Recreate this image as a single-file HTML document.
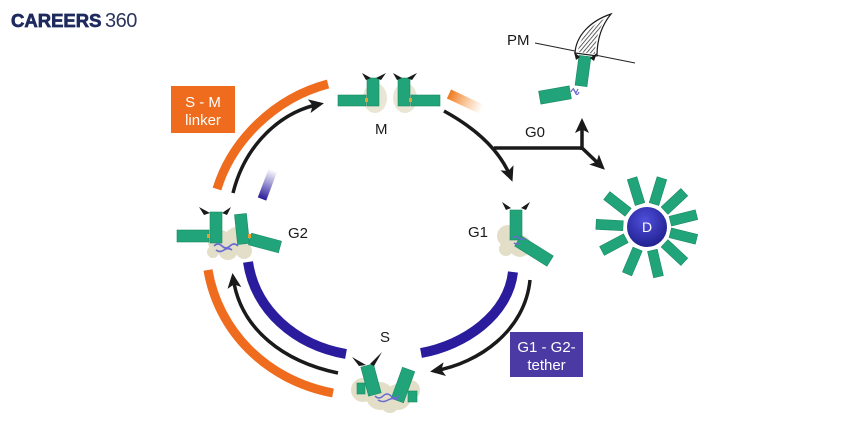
<!DOCTYPE html>
<html>
<head>
<meta charset="utf-8">
<style>
html,body{margin:0;padding:0;background:#fff;}
body{width:860px;height:430px;overflow:hidden;}
svg{display:block;}
.r{fill:#22a47a;stroke:#168a60;stroke-width:0.6;}
.cl{fill:#e2dec8;}
.lbl{font-family:"Liberation Sans",sans-serif;font-size:15px;fill:#1a1a1a;}
.bx{font-family:"Liberation Sans",sans-serif;font-size:15px;fill:#fff;text-anchor:middle;}
.ah{fill:#1a1a1a;}
</style>
</head>
<body>
<svg width="860" height="430" viewBox="0 0 860 430" xmlns="http://www.w3.org/2000/svg">
<defs>
  <marker id="ah" markerWidth="18" markerHeight="16" refX="11" refY="7" orient="auto" markerUnits="userSpaceOnUse">
    <path d="M0,0 L15,7 L0,14 L3.5,7 Z" fill="#1a1a1a"/>
  </marker>
  <linearGradient id="og" gradientUnits="userSpaceOnUse" x1="449" y1="95" x2="482" y2="110">
    <stop offset="0" stop-color="#f07a1e"/>
    <stop offset="1" stop-color="#f5a050" stop-opacity="0"/>
  </linearGradient>
  <linearGradient id="bgr" gradientUnits="userSpaceOnUse" x1="262" y1="199" x2="273" y2="170">
    <stop offset="0" stop-color="#2a1c9c"/>
    <stop offset="1" stop-color="#2a1c9c" stop-opacity="0"/>
  </linearGradient>
  <radialGradient id="dg" cx="0.45" cy="0.35" r="0.7">
    <stop offset="0" stop-color="#4f4fdc"/>
    <stop offset="1" stop-color="#1c1c88"/>
  </radialGradient>
  <pattern id="hatch" width="3" height="3" patternUnits="userSpaceOnUse" patternTransform="rotate(40)">
    <line x1="0" y1="0" x2="0" y2="3" stroke="#222" stroke-width="1.4"/>
  </pattern>
</defs>

<!-- Logo -->
<text x="11" y="27" font-family="Liberation Sans, sans-serif" font-weight="bold" font-size="18.5" fill="#1e2a5e" stroke="#1e2a5e" stroke-width="0.7">CAREERS</text>
<text x="105" y="27" font-family="Liberation Sans, sans-serif" font-size="20" fill="#2c3560" letter-spacing="-0.5">360</text>

<!-- S-M linker box -->
<rect x="171" y="86" width="64" height="47" fill="#ef6b1d"/>
<text class="bx" x="203" y="107">S - M</text>
<text class="bx" x="203" y="125">linker</text>

<!-- G1-G2 tether box -->
<rect x="510" y="332" width="73" height="45" fill="#4b3aa3"/>
<text class="bx" x="546.5" y="352">G1 - G2-</text>
<text class="bx" x="546.5" y="370">tether</text>

<!-- Orange arcs -->
<path d="M217,189 C232,140 275,98 328,84" fill="none" stroke="#ef6b1d" stroke-width="9"/>
<path d="M208,270 C218,330 265,380 333,393" fill="none" stroke="#ef6b1d" stroke-width="9"/>
<path d="M449,94 L481,109" fill="none" stroke="url(#og)" stroke-width="10"/>

<!-- Blue arcs -->
<path d="M248,262 C255,310 295,345 346,354" fill="none" stroke="#2a1c9c" stroke-width="10"/>
<path d="M513,272 C508,315 465,345 421,353" fill="none" stroke="#2a1c9c" stroke-width="10"/>
<path d="M262,199 L273,170" fill="none" stroke="url(#bgr)" stroke-width="9"/>

<!-- Black arrows -->
<path d="M233,193 C245,145 280,112 320,104" fill="none" stroke="#1a1a1a" stroke-width="3.5" marker-end="url(#ah)"/>
<path d="M338,373 C285,362 240,330 233,277" fill="none" stroke="#1a1a1a" stroke-width="3.5" marker-end="url(#ah)"/>
<path d="M530,280 C525,330 480,363 434,371" fill="none" stroke="#1a1a1a" stroke-width="3.5" marker-end="url(#ah)"/>
<path d="M444,111 C475,128 500,150 511,178" fill="none" stroke="#1a1a1a" stroke-width="3.5" marker-end="url(#ah)"/>

<!-- G0 branches -->
<path d="M494,148 L583,148" fill="none" stroke="#1a1a1a" stroke-width="3.5"/>
<path d="M582,150 L582,122" fill="none" stroke="#1a1a1a" stroke-width="3.5" marker-end="url(#ah)"/>
<path d="M581,147 L602,167" fill="none" stroke="#1a1a1a" stroke-width="3.5" marker-end="url(#ah)"/>

<!-- Labels -->
<text class="lbl" x="375" y="134">M</text>
<text class="lbl" x="525" y="137">G0</text>
<text class="lbl" x="507" y="45" font-size="16">PM</text>
<text class="lbl" x="288" y="238">G2</text>
<text class="lbl" x="468" y="237">G1</text>
<text class="lbl" x="380" y="342">S</text>

<!-- PM line and fin -->
<line x1="535" y1="43" x2="635" y2="63" stroke="#222" stroke-width="1"/>
<path d="M575,53 C576,36 590,21 611,14 C601,26 597,40 597,56 Z" fill="#fff" stroke="#1a1a1a" stroke-width="1.2"/>
<path d="M578,52 C579,38 591,25 606,18 C599,28 595,40 595,54 Z" fill="url(#hatch)"/>

<!-- PM complex -->
<rect class="r" x="-6" y="-15" width="12" height="30" transform="translate(583,71) rotate(7.6)"/>
<rect class="r" x="-15.5" y="-6.5" width="31" height="13" transform="translate(555,95) rotate(-10)"/>
<path d="M571,92 q2,-5 4,0 q2,5 4,0 M573,88 l3,5 l2,-4" fill="none" stroke="#6a6ad2" stroke-width="1.2"/>
<polygon class="ah" points="574,52 580,57 576,60"/>
<polygon class="ah" points="597,53 590,58 594,61"/>

<!-- M complex -->
<ellipse class="cl" cx="375" cy="98" rx="12" ry="15" opacity="0.75"/>
<ellipse class="cl" cx="405" cy="98" rx="12" ry="15" opacity="0.75"/>
<rect class="r" x="338" y="95" width="28" height="11"/>
<rect class="r" x="367" y="78" width="12" height="28"/>
<rect class="r" x="398" y="78" width="12" height="28"/>
<rect class="r" x="411" y="95" width="29" height="11"/>
<rect x="365" y="98" width="3" height="4" fill="#e8a030"/>
<rect x="409" y="98" width="3" height="4" fill="#e8a030"/>
<polygon class="ah" points="362,73 371,78 366,80"/>
<polygon class="ah" points="386,73 376,78 381,80"/>
<polygon class="ah" points="393,73 402,78 397,80"/>
<polygon class="ah" points="417,73 407,78 412,80"/>

<!-- G2 complex -->
<g>
  <circle class="cl" cx="220" cy="242" r="12"/>
  <circle class="cl" cx="237" cy="240" r="13"/>
  <circle class="cl" cx="228" cy="250" r="10"/>
  <circle class="cl" cx="244" cy="251" r="8"/>
  <circle class="cl" cx="213" cy="252" r="6"/>
</g>
<rect class="r" x="177" y="230" width="32" height="12"/>
<rect class="r" x="210" y="212" width="12" height="31"/>
<rect class="r" x="-6" y="-15" width="12" height="30" transform="translate(242,229) rotate(-6)"/>
<rect class="r" x="-15.5" y="-6" width="31" height="12" transform="translate(265,243) rotate(15)"/>
<rect x="207" y="234" width="3" height="4" fill="#e8a030"/>
<rect x="248" y="234" width="3" height="4" fill="#e8a030"/>
<path d="M214,246 q4,-4 8,0 q4,4 8,0 q4,-4 8,0 M216,250 q4,3 8,0 q4,-3 8,0" fill="none" stroke="#6a6ad2" stroke-width="1.6"/>
<polygon class="ah" points="199,207 210,213 204,215"/>
<polygon class="ah" points="231,207 222,213 227,215"/>

<!-- G1 complex -->
<g>
  <circle class="cl" cx="508" cy="236" r="11"/>
  <circle class="cl" cx="520" cy="246" r="11"/>
  <circle class="cl" cx="506" cy="249" r="7"/>
</g>
<rect class="r" x="510" y="210" width="12" height="30"/>
<rect class="r" x="-19" y="-6" width="38" height="12" transform="translate(534,251) rotate(32)"/>
<path d="M513,238 q3,-3 6,0 q3,3 6,0 M514,243 q3,2 6,0" fill="none" stroke="#6a6ad2" stroke-width="1.4"/>
<polygon class="ah" points="502,202 511,208 506,210"/>
<polygon class="ah" points="530,202 521,208 526,210"/>

<!-- S complex -->
<g>
  <circle class="cl" cx="363" cy="390" r="12"/>
  <circle class="cl" cx="380" cy="396" r="14"/>
  <circle class="cl" cx="398" cy="397" r="13"/>
  <circle class="cl" cx="410" cy="390" r="10"/>
  <circle class="cl" cx="390" cy="404" r="9"/>
</g>
<rect class="r" x="-6.5" y="-15" width="13" height="30" transform="translate(371,380) rotate(-15)"/>
<rect class="r" x="-6.5" y="-16.5" width="13" height="33" transform="translate(403,385) rotate(20)"/>
<rect class="r" x="357" y="383" width="8" height="11"/>
<rect class="r" x="408" y="391" width="9" height="11"/>
<path d="M375,396 q4,4 8,0 q4,-4 8,0 q4,4 8,0 M378,400 q5,3 10,0 q5,-3 10,0" fill="none" stroke="#6a6ad2" stroke-width="1.5"/>
<polygon class="ah" points="352,357 366,365 359,366"/>
<polygon class="ah" points="382,352 370,364 374,366"/>

<!-- D cell -->
<g transform="translate(647,227)">
  <rect class="r" x="24" y="-5" width="27" height="10" transform="rotate(-107)"/>
  <rect class="r" x="24" y="-5" width="27" height="10" transform="rotate(-73)"/>
  <rect class="r" x="24" y="-5" width="27" height="10" transform="rotate(-43)"/>
  <rect class="r" x="24" y="-5" width="27" height="10" transform="rotate(-14)"/>
  <rect class="r" x="24" y="-5" width="27" height="10" transform="rotate(14)"/>
  <rect class="r" x="24" y="-5" width="27" height="10" transform="rotate(43)"/>
  <rect class="r" x="24" y="-5" width="27" height="10" transform="rotate(77)"/>
  <rect class="r" x="24" y="-5" width="27" height="10" transform="rotate(113)"/>
  <rect class="r" x="24" y="-5" width="27" height="10" transform="rotate(152)"/>
  <rect class="r" x="24" y="-5" width="27" height="10" transform="rotate(183)"/>
  <rect class="r" x="24" y="-5" width="27" height="10" transform="rotate(218)"/>
  <circle cx="0" cy="0" r="21" fill="url(#dg)" stroke="#fff" stroke-width="2"/>
  <text x="0" y="5" text-anchor="middle" font-family="Liberation Sans, sans-serif" font-size="14" fill="#fff">D</text>
</g>
</svg>
</body>
</html>
